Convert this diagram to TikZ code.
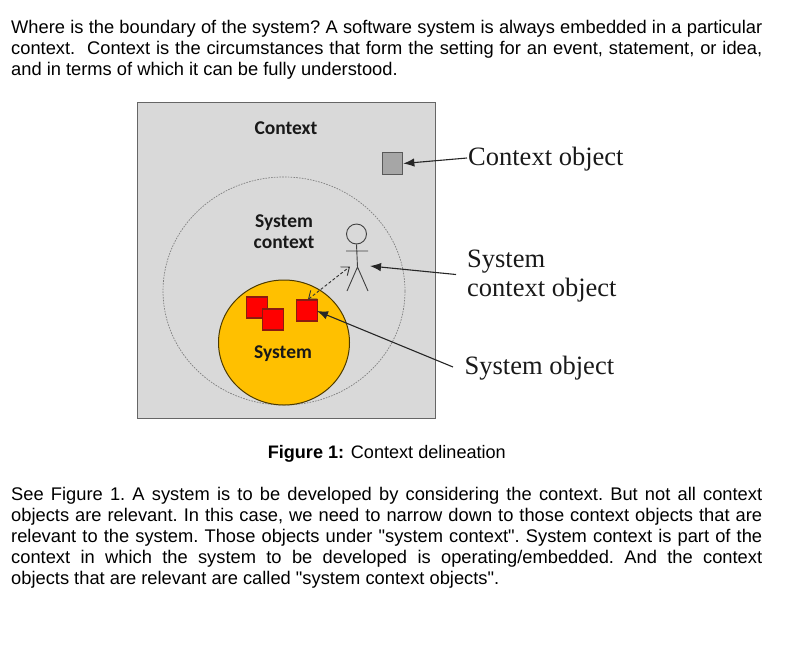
\documentclass[tikz,border=0pt]{standalone}
\usepackage{fontspec}
\setmainfont[Ligatures=TeXOff]{Liberation Sans}
\newfontfamily\figserif{Liberation Serif}
\newfontfamily\figsans{Carlito}
\usetikzlibrary{arrows.meta,shapes.geometric}
\definecolor{ctxgray}{HTML}{D9D9D9}
\definecolor{ctxborder}{HTML}{666666}
\definecolor{objgray}{HTML}{A6A6A6}
\definecolor{sysgold}{HTML}{FFC000}
\definecolor{sysred}{HTML}{FF0000}
\definecolor{redborder}{HTML}{8B1A10}
\definecolor{leader}{HTML}{262626}
\newcommand{\fullline}[1]{\hbox to 751pt{#1}}
\tikzset{
  x=1pt,y=-1pt,
  bodytext/.style={anchor=north west,inner sep=0pt,font=\fontsize{18.3}{21}\selectfont\frenchspacing},
  inlabel/.style={font=\figsans\bfseries\fontsize{19.5}{21}\selectfont,inner sep=0pt,align=center,text=black!90},
  outlabel/.style={font=\figserif\fontsize{26.5}{29}\selectfont,inner sep=0pt,anchor=west,align=left,text=black!90},
  redbox/.style={draw=redborder,fill=sysred,line width=1.1pt,minimum width=20.5pt,minimum height=21pt,inner sep=0pt},
  leaderline/.style={draw=leader,line width=1.1pt,-{Latex[length=11pt,width=8.5pt]}},
  stick/.style={draw=black!75,line width=0.9pt},
}
\begin{document}
\begin{tikzpicture}
\useasboundingbox (0,0) rectangle (792,654);
\node[bodytext,align=left] (intro) at (11,20.5) {%
\fullline{Where is the boundary of the system? A software system is always embedded in a particular}\\
\fullline{context.\ \ Context is the circumstances that form the setting for an event, statement, or idea,}\\
and in terms of which it can be fully understood.};
\node[draw=ctxborder,fill=ctxgray,line width=1.4pt,minimum width=298pt,minimum height=316pt,inner sep=0pt,anchor=north west] (ctx) at (136.8,101.8) {};
\node[draw=black!50,dash pattern=on 1.6pt off 1.2pt,line width=0.7pt,ellipse,minimum width=242pt,minimum height=228pt,inner sep=0pt] (sysctx) at (284,291) {};
\node[draw=black!70!sysgold,fill=sysgold,line width=1pt,ellipse,minimum width=131pt,minimum height=125pt,inner sep=0pt] (sys) at (284,342.5) {};
\node[inlabel] (lctx) at (286,128) {Context};
\node[inlabel] (lsysctx) at (284,232) {System\\context};
\node[inlabel] (lsys) at (283,353.5) {System};
\node[draw=black!65,fill=objgray,line width=1.2pt,minimum width=20.5pt,minimum height=21.5pt,inner sep=0pt] (cobj) at (392.5,163.5) {};
\node[redbox] (r1) at (257,307.5) {};
\node[redbox] (r2) at (273,319.5) {};
\node[redbox] (r3) at (307,310.5) {};
\node[draw=black!75,line width=0.9pt,circle,minimum size=20pt,inner sep=0pt] (head) at (356.5,234) {};
\coordinate (neck) at (head.south);
\coordinate (hip) at (357.5,267);
\coordinate (armL) at (346,251);
\coordinate (armR) at (368,251);
\coordinate (footL) at (347,291);
\coordinate (footR) at (368,291);
\coordinate (actorarrow) at (350,266.5);
\draw[stick] (neck) -- (hip) (armL) -- (armR) (footL) -- (hip) -- (footR);
\draw[draw=black!80,densely dashed,line width=0.9pt,{Straight Barb[length=7pt,width=11pt,line width=0.9pt]}-{Straight Barb[length=7pt,width=11pt,line width=0.9pt]}] (r3.north) ++(1,0) -- (actorarrow);
\node[outlabel] (lobj) at (468,159.5) {Context object};
\node[outlabel] (lsysobj) at (467,276.5) {System\\context object};
\node[outlabel] (lsobj) at (464.5,368) {System object};
\coordinate (t1) at (467,158);
\coordinate (t2) at (456,274.5);
\coordinate (t3) at (453,367);
\coordinate (a2) at (370,266);
\coordinate (a3) at (317,311);
\draw[leaderline] (t1) -- (cobj.east);
\draw[leaderline] (t2) -- (a2);
\draw[leaderline] (t3) -- (a3);
\node[anchor=center,inner sep=0pt,font=\fontsize{18.1}{21}\selectfont] (cap) at (386.8,453.5) {\textbf{Figure 1:} Context delineation};
\node[bodytext,align=left] (body) at (11,487.5) {%
\fullline{See Figure 1. A system is to be developed by considering the context. But not all context}\\
\fullline{objects are relevant. In this case, we need to narrow down to those context objects that are}\\
\fullline{relevant to the system. Those objects under "system context". System context is part of the}\\
\fullline{context in which the system to be developed is operating/embedded. And the context}\\
objects that are relevant are called "system context objects".};
\end{tikzpicture}
\end{document}
